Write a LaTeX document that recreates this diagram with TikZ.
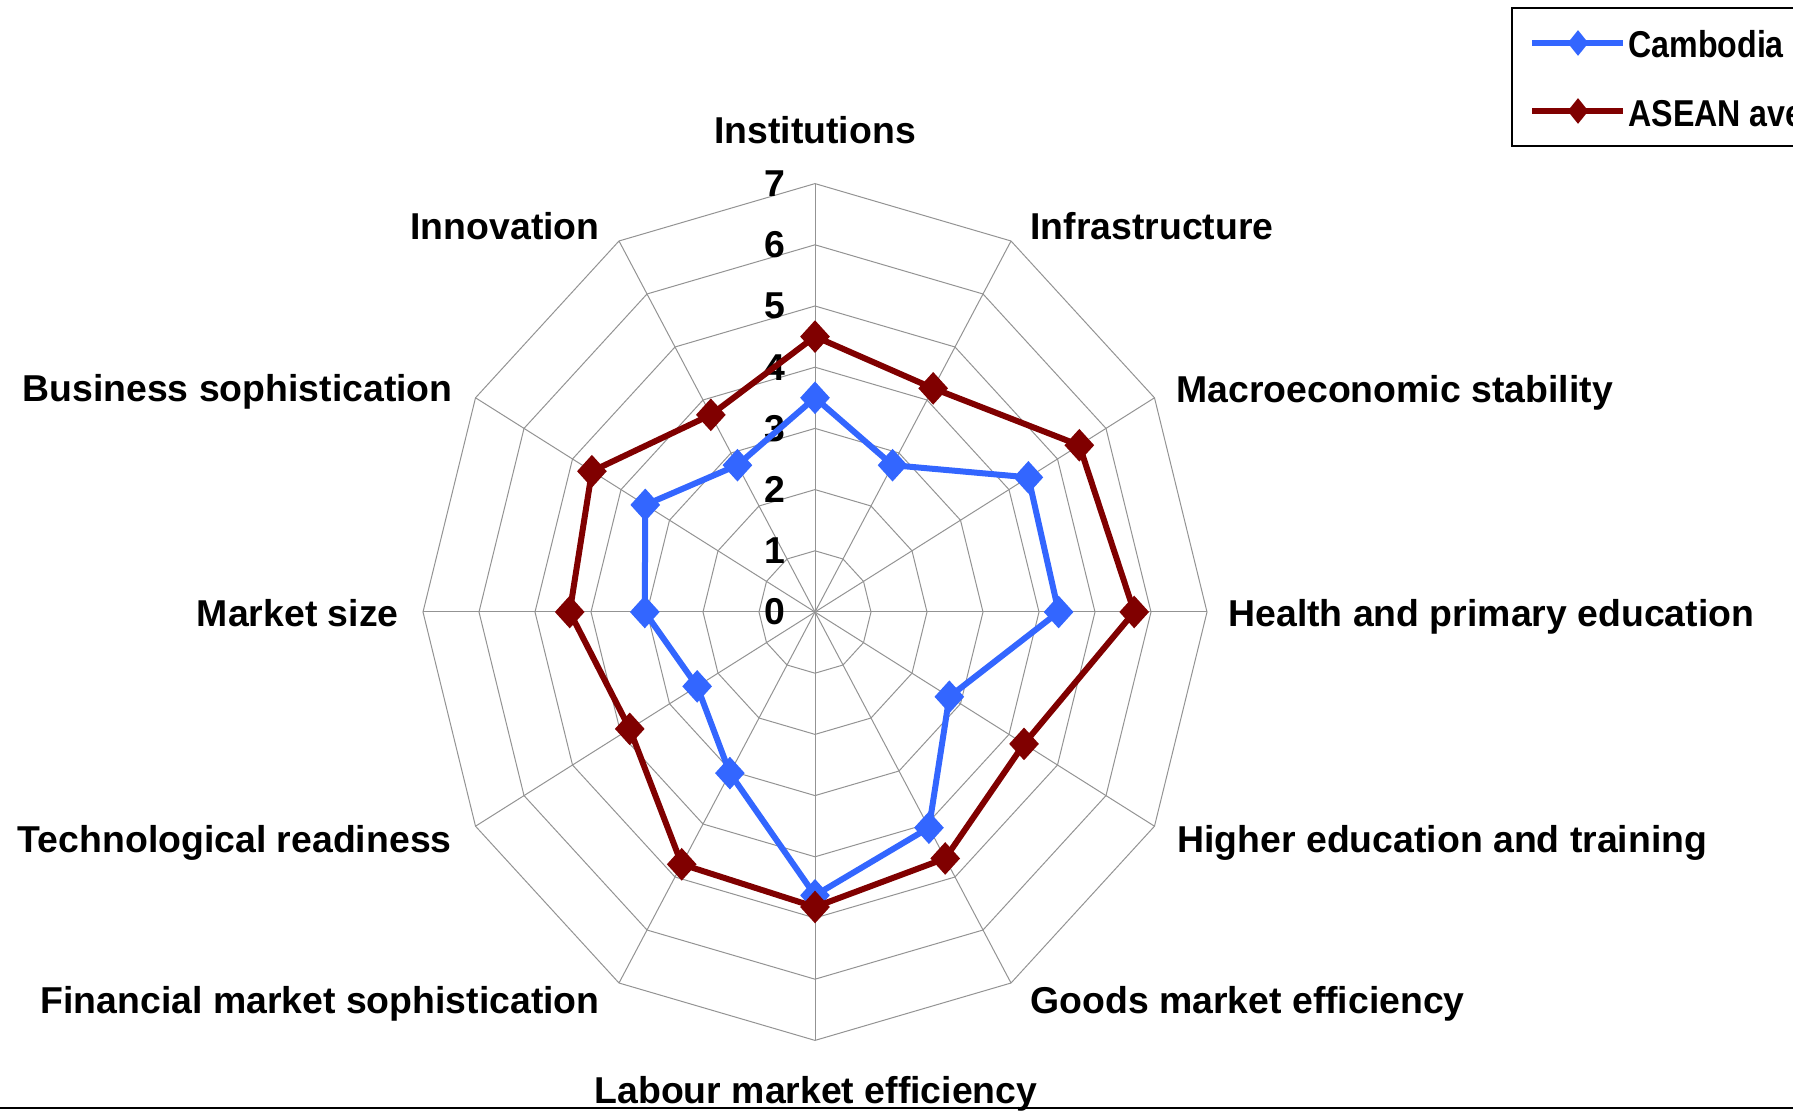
\documentclass[tikz,border=0pt]{standalone}
\usepackage{fontspec}
\setmainfont{Liberation Sans}
\usetikzlibrary{shapes.geometric}
\definecolor{cambblue}{RGB}{51,102,255}
\definecolor{aseanred}{RGB}{128,0,0}

\begin{document}
\begin{tikzpicture}[
  every node/.style={inner sep=0pt, font=\fontsize{18.7}{22}\selectfont\bfseries},
  gridline/.style={draw=gray!85, line width=0.5pt},
  camb/.style={draw=cambblue, line width=3pt, line join=round},
  asean/.style={draw=aseanred, line width=3pt, line join=round},
  cambmark/.style={diamond, fill=cambblue, minimum width=15pt, minimum height=16.5pt},
  aseanmark/.style={diamond, fill=aseanred, minimum width=15pt, minimum height=16.5pt},
  legmark/.style={minimum width=10.5pt, minimum height=13pt},
  legtext/.style={anchor=base west, xscale=0.86}]
\clip (0,0) rectangle (896.5pt,-555.5pt);
\begin{scope}[shift={(407.5pt,-306pt)}, x=28pt, y=30.6pt]
\coordinate (o) at (0,0);
% grid
\foreach \r in {1,...,7}
  \draw[gridline] (90:\r) \foreach \a in {60,30,...,-240} { -- (\a:\r) } -- cycle;
\foreach \a in {0,30,...,330}
  \draw[gridline] (o) -- (\a:7);
\foreach \v in {0,...,7}
  \node[anchor=east] (t\v) at ([xshift=-14.5pt]0,\v) {\v};
% Cambodia
\foreach \v [count=\k from 0] in {3.5,2.77,4.4,4.35,2.77,4.07,4.63,3.04,2.43,3.04,3.5,2.77}
  \coordinate (c\k) at ({90-30*\k}:\v);
\draw[camb] (c0) -- (c1) -- (c2) -- (c3) -- (c4) -- (c5) -- (c6) -- (c7) -- (c8) -- (c9) -- (c10) -- (c11) -- cycle;
\foreach \k in {0,...,11}
  \node[cambmark] (cm\k) at (c\k) {};
% ASEAN average
\foreach \v [count=\k from 0] in {4.5,4.22,5.45,5.7,4.31,4.65,4.82,4.76,3.82,4.38,4.6,3.72}
  \coordinate (a\k) at ({90-30*\k}:\v);
\draw[asean] (a0) -- (a1) -- (a2) -- (a3) -- (a4) -- (a5) -- (a6) -- (a7) -- (a8) -- (a9) -- (a10) -- (a11) -- cycle;
\foreach \k in {0,...,11}
  \node[aseanmark] (am\k) at (a\k) {};
\end{scope}
% axis labels
\node[anchor=base] (inst) at (407.5pt,-72pt) {Institutions};
\node[anchor=base west] (infra) at (515pt,-120pt) {Infrastructure};
\node[anchor=base west] (macro) at (588pt,-201.5pt) {Macroeconomic stability};
\node[anchor=base west] (health) at (614pt,-313.5pt) {Health and primary education};
\node[anchor=base west] (higher) at (588.5pt,-426pt) {Higher education and training};
\node[anchor=base west] (goods) at (515pt,-506.5pt) {Goods market efficiency};
\node[anchor=base] (labour) at (408pt,-551.5pt) {Labour market efficiency};
\node[anchor=base east] (fin) at (300pt,-506.5pt) {Financial market sophistication};
\node[anchor=base east] (tech) at (226pt,-426pt) {Technological readiness};
\node[anchor=base east] (msize) at (199.5pt,-313.5pt) {Market size};
\node[anchor=base east] (bus) at (226.5pt,-201pt) {Business sophistication};
\node[anchor=base east] (innov) at (300pt,-120pt) {Innovation};
% legend
\draw[black, line width=0.6pt] (756pt,-4pt) rectangle (930pt,-73pt);
\coordinate (lc1) at (766pt,-21.5pt);
\coordinate (lc2) at (811.5pt,-21.5pt);
\coordinate (la1) at (766pt,-55.5pt);
\coordinate (la2) at (811.5pt,-55.5pt);
\draw[camb] (lc1) -- (lc2);
\node[cambmark, legmark] (lcm) at (789pt,-21.5pt) {};
\node[legtext] (lcamb) at (814pt,-29pt) {Cambodia};
\draw[asean] (la1) -- (la2);
\node[aseanmark, legmark] (lam) at (789pt,-55.5pt) {};
\node[legtext] (lasean) at (814pt,-63.5pt) {ASEAN average};
% bottom rule
\draw[black, line width=0.8pt] (0pt,-554pt) -- (896.5pt,-554pt);
\end{tikzpicture}
\end{document}
